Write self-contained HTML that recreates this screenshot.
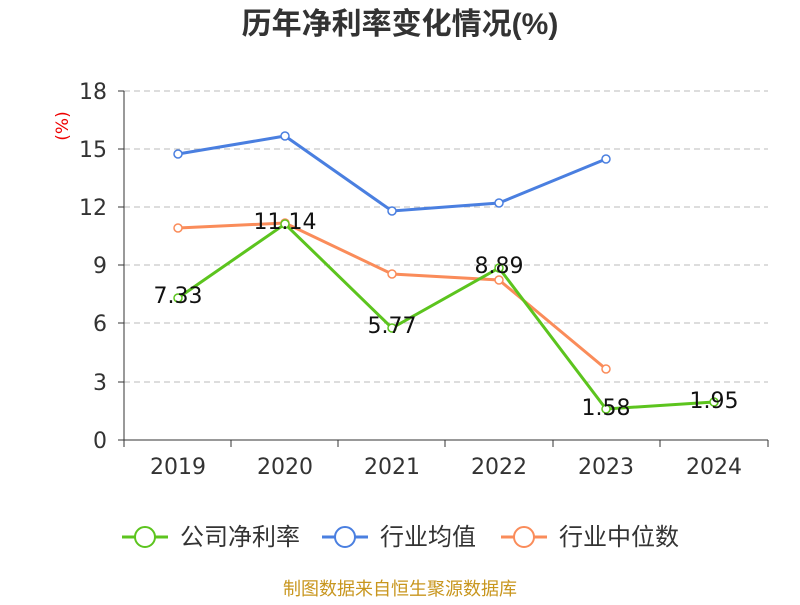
<!DOCTYPE html>
<html><head><meta charset="utf-8"><style>body{margin:0;background:#fff}</style></head>
<body>
<svg width="800" height="600" xmlns="http://www.w3.org/2000/svg" font-family="DejaVu Sans, Noto Sans CJK SC, sans-serif">
<rect width="800" height="600" fill="#fff"/>
<text x="400" y="34" text-anchor="middle" font-size="30" font-weight="bold" fill="#333" font-family="Liberation Sans, Noto Sans CJK SC, sans-serif">历年净利率变化情况(%)</text>
<text x="68" y="126" text-anchor="middle" font-size="17" fill="#e00" transform="rotate(-90 68 126)">(%)</text>
<g stroke="#bbb" stroke-dasharray="6,4" stroke-width="1">
<line x1="124" y1="91" x2="768" y2="91"/><line x1="124" y1="149" x2="768" y2="149"/><line x1="124" y1="207" x2="768" y2="207"/><line x1="124" y1="265" x2="768" y2="265"/><line x1="124" y1="323" x2="768" y2="323"/><line x1="124" y1="382" x2="768" y2="382"/>
</g>
<g stroke="#333" stroke-width="1">
<line x1="124" y1="91" x2="124" y2="440"/><line x1="124" y1="440" x2="768" y2="440"/>
<line x1="118" y1="91" x2="124" y2="91"/><line x1="118" y1="149" x2="124" y2="149"/><line x1="118" y1="207" x2="124" y2="207"/><line x1="118" y1="265" x2="124" y2="265"/><line x1="118" y1="323" x2="124" y2="323"/><line x1="118" y1="382" x2="124" y2="382"/><line x1="118" y1="440" x2="124" y2="440"/>
<line x1="124" y1="440" x2="124" y2="447"/><line x1="231" y1="440" x2="231" y2="447"/><line x1="338" y1="440" x2="338" y2="447"/><line x1="445" y1="440" x2="445" y2="447"/><line x1="553" y1="440" x2="553" y2="447"/><line x1="660" y1="440" x2="660" y2="447"/><line x1="768" y1="440" x2="768" y2="447"/>
</g>
<g font-size="22" fill="#333" text-anchor="end">
<text x="107" y="99">18</text><text x="107" y="157">15</text><text x="107" y="215">12</text><text x="107" y="273">9</text><text x="107" y="331">6</text><text x="107" y="390">3</text><text x="107" y="448">0</text>
</g>
<g font-size="22" fill="#333" text-anchor="middle">
<text x="178" y="474">2019</text><text x="285" y="474">2020</text><text x="392" y="474">2021</text><text x="499" y="474">2022</text><text x="606" y="474">2023</text><text x="714" y="474">2024</text>
</g>
<g fill="none" stroke-width="3">
<polyline stroke="#4a7fe0" points="178,154 285,136 392,211 499,203 606,159"/>
<polyline stroke="#fa8c5a" points="178,228 285,223 392,274 499,280 606,369"/>
<polyline stroke="#5cc41e" points="178,298 285,224 392,328 499,268 606,409 714,402"/>
</g>
<g fill="#fff" stroke-width="1.5">
<g stroke="#4a7fe0"><circle cx="178" cy="154" r="4"/><circle cx="285" cy="136" r="4"/><circle cx="392" cy="211" r="4"/><circle cx="499" cy="203" r="4"/><circle cx="606" cy="159" r="4"/></g>
<g stroke="#fa8c5a"><circle cx="178" cy="228" r="4"/><circle cx="285" cy="223" r="4"/><circle cx="392" cy="274" r="4"/><circle cx="499" cy="280" r="4"/><circle cx="606" cy="369" r="4"/></g>
<g stroke="#5cc41e"><circle cx="178" cy="298" r="4"/><circle cx="285" cy="224" r="4"/><circle cx="392" cy="328" r="4"/><circle cx="499" cy="268" r="4"/><circle cx="606" cy="409" r="4"/><circle cx="714" cy="402" r="4"/></g>
</g>
<g font-size="22" fill="#111" text-anchor="middle">
<text x="178" y="303">7.33</text><text x="285" y="229">11.14</text><text x="392" y="333">5.77</text><text x="499" y="273">8.89</text><text x="606" y="415">1.58</text><text x="714" y="408">1.95</text>
</g>
<g font-size="24" fill="#333">
<line x1="122" y1="537" x2="168" y2="537" stroke="#5cc41e" stroke-width="3"/><circle cx="145" cy="537" r="10" fill="#fff" stroke="#5cc41e" stroke-width="2"/>
<text x="180" y="545">公司净利率</text>
<line x1="322" y1="537" x2="368" y2="537" stroke="#4a7fe0" stroke-width="3"/><circle cx="345" cy="537" r="10" fill="#fff" stroke="#4a7fe0" stroke-width="2"/>
<text x="380" y="545">行业均值</text>
<line x1="501" y1="537" x2="547" y2="537" stroke="#fa8c5a" stroke-width="3"/><circle cx="524" cy="537" r="10" fill="#fff" stroke="#fa8c5a" stroke-width="2"/>
<text x="559" y="545">行业中位数</text>
</g>
<text x="400" y="595" text-anchor="middle" font-size="18" fill="#c8961e">制图数据来自恒生聚源数据库</text>
</svg>
</body></html>
